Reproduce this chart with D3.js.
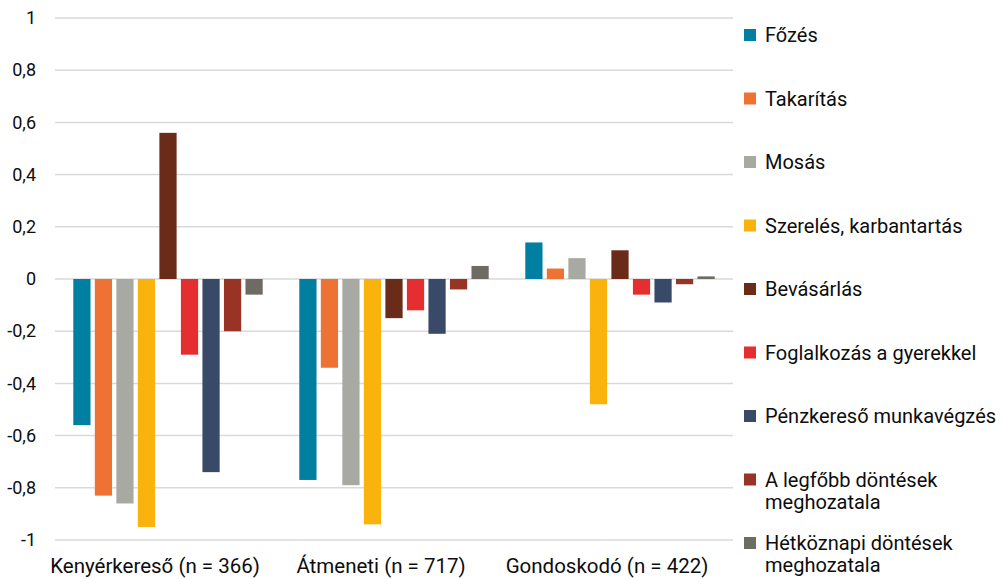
<!DOCTYPE html>
<html>
<head>
<meta charset="utf-8">
<script src="https://cdn.jsdelivr.net/npm/d3@7"></script>
<style>
  body { margin: 0; background: #fff; }
  text { font-family: Roboto, "Noto Sans", sans-serif; fill: #0d0d0d; }
</style>
</head>
<body>
<div id="svganchor"></div>
<script>
let width = 1004;
let height = 579;
let margin = { top: 18, right: 271, bottom: 39, left: 55 };

// data
let groups = ["Kenyérkereső (n = 366)", "Átmeneti (n = 717)", "Gondoskodó (n = 422)"];
let series = ["Főzés", "Takarítás", "Mosás", "Szerelés, karbantartás", "Bevásárlás",
  "Foglalkozás a gyerekkel", "Pénzkereső munkavégzés", "A legfőbb döntések meghozatala",
  "Hétköznapi döntések meghozatala"];
let colors = ["#017fa1", "#ee7233", "#a9a9a4", "#f9b30c", "#6a2c18", "#e42e30", "#394a68", "#983326", "#6e6b64"];
let kenyerkereso = [-0.56, -0.83, -0.86, -0.95, 0.56, -0.29, -0.74, -0.20, -0.06];
let atmeneti = [-0.77, -0.34, -0.79, -0.94, -0.15, -0.12, -0.21, -0.04, 0.05];
let gondoskodo = [0.14, 0.04, 0.08, -0.48, 0.11, -0.06, -0.09, -0.02, 0.01];
let yTicks = [1, 0.8, 0.6, 0.4, 0.2, 0, -0.2, -0.4, -0.6, -0.8, -1];
// legend labels split into lines
let legendLines = [["Főzés"], ["Takarítás"], ["Mosás"], ["Szerelés, karbantartás"], ["Bevásárlás"],
  ["Foglalkozás a gyerekkel"], ["Pénzkereső munkavégzés"], ["A legfőbb döntések", "meghozatala"],
  ["Hétköznapi döntések", "meghozatala"]];

let values = [kenyerkereso, atmeneti, gondoskodo];

let svg = d3.select("#svganchor").append("svg").attr("width", width).attr("height", height);

let x0 = d3.scaleBand().domain(groups).range([margin.left, width - margin.right]).padding(0);
let x1 = d3.scaleBand().domain(series).range([0, x0.bandwidth()]).paddingInner(0.2).paddingOuter(0.85);
let y = d3.scaleLinear().domain([-1, 1]).range([height - margin.bottom, margin.top]);
let color = d3.scaleOrdinal().domain(series).range(colors);

// gridlines
svg.append("g")
  .selectAll("line")
  .data(yTicks)
  .enter()
  .append("line")
  .attr("x1", margin.left)
  .attr("x2", width - margin.right)
  .attr("y1", d => y(d))
  .attr("y2", d => y(d))
  .attr("stroke", "#d9d9d9")
  .attr("stroke-width", 1.5);

// y axis labels (comma decimal, plain hyphen)
let yAxis = d3.axisLeft(y).tickValues(yTicks).tickSize(0).tickPadding(19)
  .tickFormat(d => String(+d.toFixed(1)).replace(".", ","));
svg.append("g")
  .attr("transform", "translate(" + margin.left + ",0)")
  .call(yAxis)
  .call(g => g.select(".domain").remove())
  .selectAll("text")
  .attr("font-size", 18)
  .attr("font-family", null)
  .attr("fill", "#0d0d0d");

// bars
let barData = [];
groups.forEach((g, gi) => {
  series.forEach((s, si) => {
    barData.push({ group: g, key: s, value: values[gi][si] });
  });
});

svg.append("g")
  .selectAll("rect")
  .data(barData)
  .enter()
  .append("rect")
  .attr("x", d => x0(d.group) + x1(d.key))
  .attr("width", x1.bandwidth())
  .attr("y", d => y(Math.max(0, d.value)))
  .attr("height", d => Math.abs(y(d.value) - y(0)))
  .attr("fill", d => color(d.key));

// category labels
svg.append("g")
  .selectAll("text")
  .data(groups)
  .enter()
  .append("text")
  .attr("x", d => x0(d) + x0.bandwidth() / 2 - 13)
  .attr("y", height - 6)
  .attr("text-anchor", "middle")
  .attr("font-size", 20.5)
  .text(d => d);

// legend
let legend = svg.append("g").attr("transform", "translate(744,0)");
let legendY = d3.scalePoint().domain(series).range([35, 543]);

let items = legend.selectAll("g")
  .data(series)
  .enter()
  .append("g")
  .attr("transform", d => "translate(0," + legendY(d) + ")");

items.append("rect")
  .attr("x", 0)
  .attr("y", -6)
  .attr("width", 12)
  .attr("height", 12)
  .attr("fill", d => color(d));

items.each(function (d, i) {
  let t = d3.select(this).append("text")
    .attr("x", 21)
    .attr("y", 7)
    .attr("font-size", 20);
  legendLines[i].forEach((line, li) => {
    t.append("tspan").attr("x", 21).attr("dy", li === 0 ? 0 : 22).text(line);
  });
});
</script>
</body>
</html>
